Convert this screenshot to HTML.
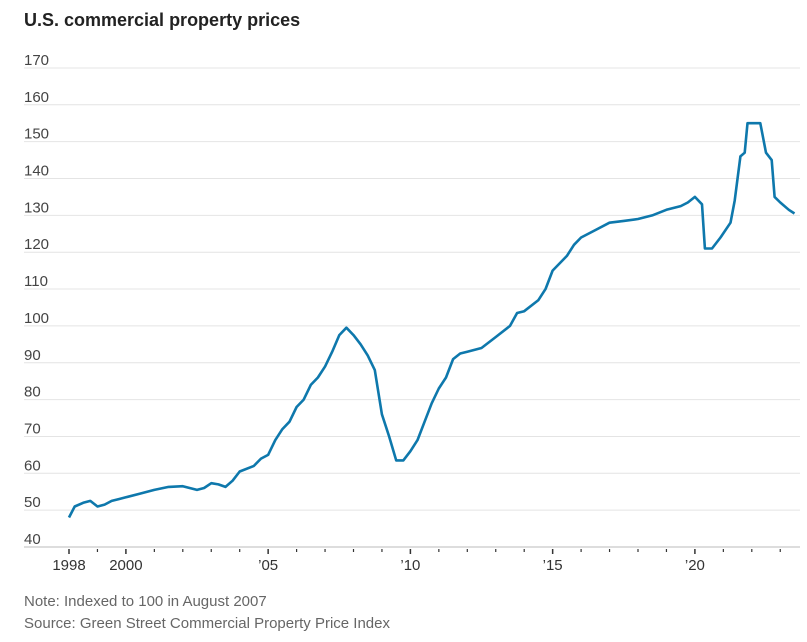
<!DOCTYPE html>
<html><head><meta charset="utf-8"><style>
body{margin:0;background:#fff;width:807px;height:642px;overflow:hidden;font-family:"Liberation Sans",sans-serif}
svg{position:absolute;left:0;top:0}
</style></head><body>
<svg id="c" width="807" height="642">
<text x="24" y="26" font-size="18" font-weight="bold" fill="#222">U.S. commercial property prices</text>
<text x="24" y="606" font-size="15" fill="#666">Note: Indexed to 100 in August 2007</text>
<text x="24" y="628" font-size="15" fill="#666">Source: Green Street Commercial Property Price Index</text>
</svg>
<script>
const yTicks=[40,50,60,70,80,90,100,110,120,130,140,150,160,170];
const xTickYears=[1998,1999,2000,2001,2002,2003,2004,2005,2006,2007,2008,2009,2010,2011,2012,2013,2014,2015,2016,2017,2018,2019,2020,2021,2022,2023];
const xLabelYears=[1998,2000,2005,2010,2015,2020];
const xLabels=["1998","2000","’05","’10","’15","’20"];
const dates=[1998.0,1998.2,1998.5,1998.75,1999.0,1999.25,1999.5,1999.75,2000,2000.5,2001,2001.5,2002,2002.5,2002.75,2003.0,2003.25,2003.5,2003.75,2004,2004.5,2004.75,2005,2005.25,2005.5,2005.75,2006,2006.25,2006.5,2006.75,2007,2007.25,2007.5,2007.75,2008,2008.25,2008.5,2008.75,2009,2009.25,2009.5,2009.75,2010.0,2010.25,2010.5,2010.75,2011,2011.25,2011.5,2011.75,2012,2012.5,2013,2013.5,2013.75,2014,2014.5,2014.75,2015,2015.5,2015.75,2016,2016.5,2017,2017.5,2018,2018.5,2019,2019.5,2019.75,2020.0,2020.25,2020.35,2020.6,2020.9,2021.25,2021.4,2021.6,2021.75,2021.85,2022.3,2022.5,2022.7,2022.8,2023.0,2023.3,2023.5];
const values=[48,51,52,52.5,51,51.5,52.5,53,53.5,54.5,55.5,56.3,56.5,55.5,56,57.3,57,56.3,58,60.5,62,64,65,69,72,74,78,80,84,86,89,93,97.5,99.5,97.5,95,92,88,76,70,63.5,63.5,66,69,74,79,83,86,91,92.5,93,94,97,100,103.5,104,107,110,115,119,122,124,126,128,128.5,129,130,131.5,132.5,133.5,135,133,121,121,124,128,134,146,147,155,155,147,145,135,133.5,131.5,130.5];
const NS="http://www.w3.org/2000/svg";
const svg=document.getElementById('c');
const X=y=>69+(y-1998)*28.45;
const Y=v=>547-(v-40)*3.685;
function mk(t,a){const e=document.createElementNS(NS,t);for(const k in a)e.setAttribute(k,a[k]);svg.appendChild(e);return e;}
yTicks.forEach(v=>{
  const l=mk('line',{x1:24,x2:800,y1:Y(v),y2:Y(v),stroke:v===40?'#ddd':'#e4e4e4','stroke-width':v===40?2:1});
  
  
  const t=mk('text',{x:24,y:Y(v)-3,'font-size':15,fill:'#444'});t.textContent=v;
  
  
});
xTickYears.forEach(yr=>{
  const major=xLabelYears.includes(yr);
  const l=mk('line',{x1:X(yr),x2:X(yr),y1:Y(40)+2,y2:Y(40)+(major?7:5),stroke:'#333','stroke-width':major?1.5:1.2});
  
  
});
xLabelYears.forEach((yr,i)=>{
  const t=mk('text',{x:X(yr),y:570,'font-size':15,fill:'#333','text-anchor':'middle'});t.textContent=xLabels[i];
  
  
});
const d=dates.map((dt,i)=>(i?'L':'M')+X(dt).toFixed(1)+','+Y(values[i]).toFixed(1)).join('');
const p=mk('path',{d:d,fill:'none',stroke:'#0e78ac','stroke-width':2.6,'stroke-linejoin':'round'});


</script>
</body></html>
